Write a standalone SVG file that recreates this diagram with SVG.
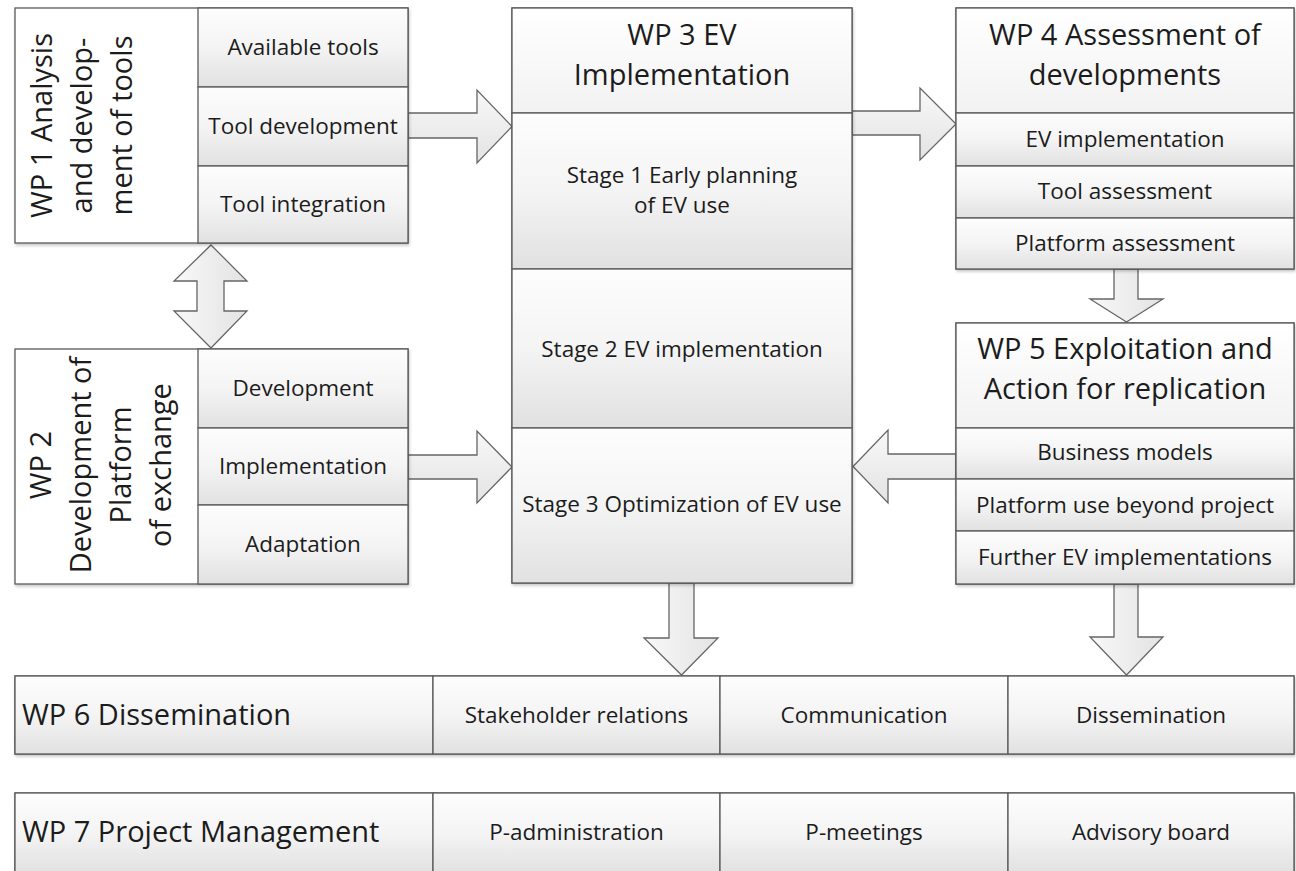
<svg xmlns="http://www.w3.org/2000/svg" width="1296" height="871" viewBox="0 0 1296 871">
<defs>
<linearGradient id="cellGrad" x1="0" y1="0" x2="0" y2="1">
<stop offset="0" stop-color="#fdfdfd"/><stop offset="0.5" stop-color="#f4f4f4"/><stop offset="1" stop-color="#e1e1e1"/>
</linearGradient>
<linearGradient id="headGrad" x1="0" y1="0" x2="0" y2="1">
<stop offset="0" stop-color="#ffffff"/><stop offset="1" stop-color="#f2f2f2"/>
</linearGradient>
<linearGradient id="arrGrad" x1="0" y1="0" x2="0" y2="1">
<stop offset="0" stop-color="#f8f8f8"/><stop offset="1" stop-color="#e3e3e3"/>
</linearGradient>
<linearGradient id="arrGradV" x1="0" y1="0" x2="1" y2="0">
<stop offset="0" stop-color="#f8f8f8"/><stop offset="1" stop-color="#e3e3e3"/>
</linearGradient>
<filter id="sh" x="-5%" y="-5%" width="110%" height="115%">
<feDropShadow dx="1" dy="2" stdDeviation="1.5" flood-color="#000" flood-opacity="0.22"/>
</filter>
</defs>
<style>
.box{fill:#fff;stroke:#5a5a5a;stroke-width:1.3;filter:url(#sh)}
.cell{fill:url(#cellGrad);stroke:#5a5a5a;stroke-width:1.3}
.head{fill:url(#headGrad);stroke:#5a5a5a;stroke-width:1.3}
.arr{fill:url(#arrGrad);stroke:#666;stroke-width:1.3;stroke-linejoin:miter}
.arrv{fill:url(#arrGradV);stroke:#666;stroke-width:1.3;stroke-linejoin:miter}
text{font-family:"Open Sans","Noto Sans","Liberation Sans",sans-serif;fill:#1c1c1c}
.t{font-size:22.5px;text-anchor:middle}
.h{font-size:29px;text-anchor:middle}
.hl{font-size:29px;text-anchor:start}
</style>
<rect width="1296" height="871" fill="#ffffff"/>

<g id="connectors">
<polygon class="arr" points="408,113 477,113 477,90 512,126.5 477,163 477,138 408,138"/>
<polygon class="arr" points="408,455 477,455 477,431 512,467 477,503 477,479 408,479"/>
<polygon class="arr" points="852,111 920,111 920,88 956,124 920,160 920,135 852,135"/>
<polygon class="arr" points="956,454 888,454 888,430 853,466.5 888,503 888,479 956,479"/>
<polygon class="arrv" points="1114,269 1138,269 1138,299 1163,299 1126.5,322 1090,299 1114,299"/>
<polygon class="arrv" points="1114,584 1138,584 1138,637 1163,637 1126.5,675 1090,637 1114,637"/>
<polygon class="arrv" points="669,583 694,583 694,638 718,638 681.5,675 644,638 669,638"/>
<polygon class="arrv" points="211,245 247,281 224,281 224,311 247,311 211,348 174,311 197,311 197,281 174,281"/>
</g>

<g id="wp1">
<rect class="box" x="15" y="8" width="393" height="235"/>
<rect class="cell" x="198" y="8" width="210" height="79"/>
<rect class="cell" x="198" y="87" width="210" height="79"/>
<rect class="cell" x="198" y="166" width="210" height="77"/>
<text class="h" transform="translate(52,125.5) rotate(-90)">WP 1 Analysis</text>
<text class="h" transform="translate(92,125.5) rotate(-90)">and develop-</text>
<text class="h" transform="translate(132,125.5) rotate(-90)">ment of tools</text>
<text class="t" x="303" y="55">Available tools</text>
<text class="t" x="303" y="134">Tool development</text>
<text class="t" x="303" y="212">Tool integration</text>
</g>

<g id="wp2">
<rect class="box" x="15" y="349" width="393" height="235"/>
<rect class="cell" x="198" y="349" width="210" height="79"/>
<rect class="cell" x="198" y="428" width="210" height="77"/>
<rect class="cell" x="198" y="505" width="210" height="79"/>
<text class="h" transform="translate(51,465) rotate(-90)">WP 2</text>
<text class="h" transform="translate(91,465) rotate(-90)">Development of</text>
<text class="h" transform="translate(131,465) rotate(-90)">Platform</text>
<text class="h" transform="translate(171,465) rotate(-90)">of exchange</text>
<text class="t" x="303" y="396">Development</text>
<text class="t" x="303" y="474">Implementation</text>
<text class="t" x="303" y="552">Adaptation</text>
</g>

<g id="wp3">
<rect class="box" x="512" y="8" width="340" height="575"/>
<rect class="head" x="512" y="8" width="340" height="105"/>
<rect class="cell" x="512" y="113" width="340" height="156"/>
<rect class="cell" x="512" y="269" width="340" height="159"/>
<rect class="cell" x="512" y="428" width="340" height="155"/>
<text class="h" x="682" y="45">WP 3 EV</text>
<text class="h" x="682" y="85">Implementation</text>
<text class="t" x="682" y="183">Stage 1 Early planning</text>
<text class="t" x="682" y="213">of EV use</text>
<text class="t" x="682" y="357">Stage 2 EV implementation</text>
<text class="t" x="682" y="512">Stage 3 Optimization of EV use</text>
</g>

<g id="wp4">
<rect class="box" x="956" y="8" width="338" height="261"/>
<rect class="head" x="956" y="8" width="338" height="105"/>
<rect class="cell" x="956" y="113" width="338" height="53"/>
<rect class="cell" x="956" y="166" width="338" height="52"/>
<rect class="cell" x="956" y="218" width="338" height="51"/>
<text class="h" x="1125" y="45">WP 4 Assessment of</text>
<text class="h" x="1125" y="85">developments</text>
<text class="t" x="1125" y="147">EV implementation</text>
<text class="t" x="1125" y="199">Tool assessment</text>
<text class="t" x="1125" y="251">Platform assessment</text>
</g>

<g id="wp5">
<rect class="box" x="956" y="323" width="338" height="261"/>
<rect class="head" x="956" y="323" width="338" height="105"/>
<rect class="cell" x="956" y="428" width="338" height="51"/>
<rect class="cell" x="956" y="479" width="338" height="52"/>
<rect class="cell" x="956" y="531" width="338" height="53"/>
<text class="h" x="1125" y="359">WP 5 Exploitation and</text>
<text class="h" x="1125" y="399">Action for replication</text>
<text class="t" x="1125" y="460">Business models</text>
<text class="t" x="1125" y="513">Platform use beyond project</text>
<text class="t" x="1125" y="565">Further EV implementations</text>
</g>

<g id="wp6">
<rect class="box" x="15" y="676" width="1279" height="78"/>
<rect class="cell" x="15" y="676" width="418" height="78"/>
<rect class="cell" x="433" y="676" width="287" height="78"/>
<rect class="cell" x="720" y="676" width="288" height="78"/>
<rect class="cell" x="1008" y="676" width="286" height="78"/>
<text class="hl" x="22" y="725">WP 6 Dissemination</text>
<text class="t" x="576.5" y="723">Stakeholder relations</text>
<text class="t" x="864" y="723">Communication</text>
<text class="t" x="1151" y="723">Dissemination</text>
</g>

<g id="wp7">
<rect class="box" x="15" y="793" width="1279" height="80"/>
<rect class="cell" x="15" y="793" width="418" height="80"/>
<rect class="cell" x="433" y="793" width="287" height="80"/>
<rect class="cell" x="720" y="793" width="288" height="80"/>
<rect class="cell" x="1008" y="793" width="286" height="80"/>
<text class="hl" x="22" y="842">WP 7 Project Management</text>
<text class="t" x="576.5" y="840">P-administration</text>
<text class="t" x="864" y="840">P-meetings</text>
<text class="t" x="1151" y="840">Advisory board</text>
</g>
</svg>
